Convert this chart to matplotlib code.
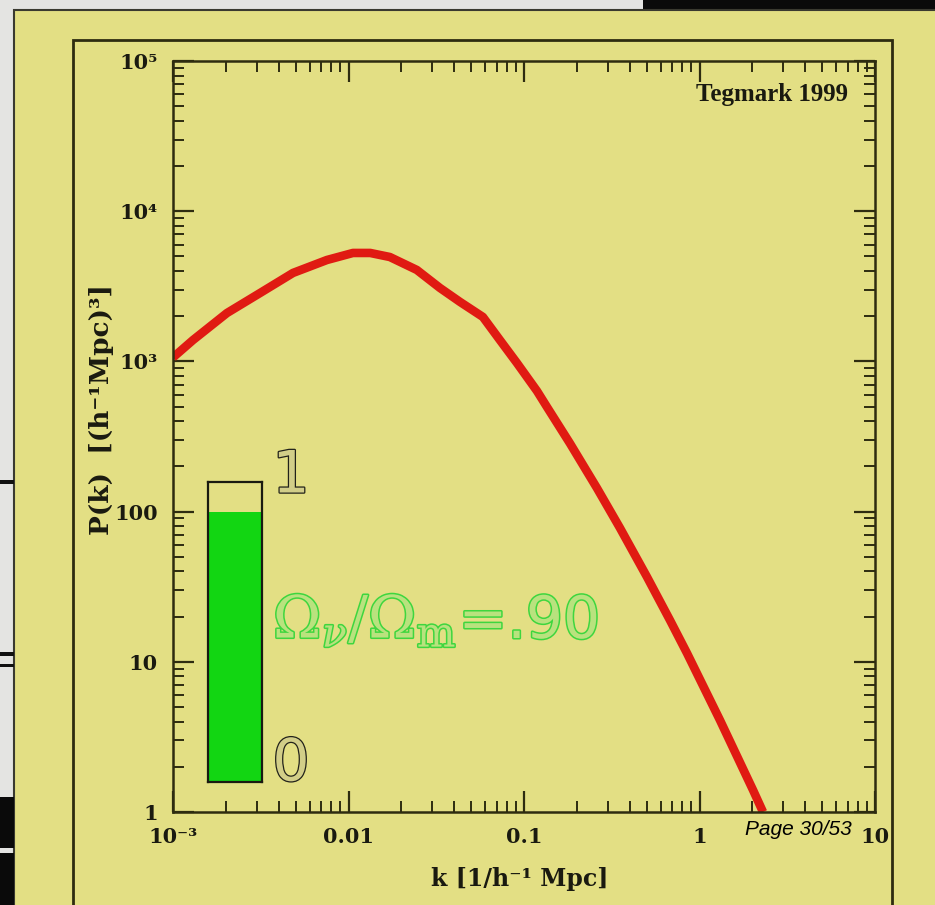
import matplotlib
matplotlib.use("Agg")
import matplotlib.pyplot as plt
import matplotlib.patheffects as pe
from matplotlib.patches import Rectangle

plt.rcParams["mathtext.fontset"] = "dejavuserif"

# Power spectrum curve (k in h/Mpc, P in (Mpc/h)^3)
k_vals = [0.00100, 0.00130, 0.00203, 0.00313, 0.00483, 0.00753, 0.0106, 0.0133,
          0.0172, 0.0245, 0.0332, 0.0432, 0.0583, 0.0729, 0.0912, 0.1186, 0.1352,
          0.1828, 0.2606, 0.3524, 0.5023, 0.6792, 0.8492, 1.309, 2.018, 2.301]
p_vals = [1062, 1387, 2099, 2851, 3882, 4732, 5272, 5272,
          4955, 4064, 3083, 2489, 1977, 1387, 975, 635, 497,
          284.5, 143.2, 77.7, 36.7, 18.9, 11.4, 4.08, 1.40, 1.0]

x_ticks = [1e-3, 1e-2, 0.1, 1, 10]
x_tick_labels = ["10⁻³", "0.01", "0.1", "1", "10"]
y_ticks = [1, 10, 100, 1e3, 1e4, 1e5]
y_tick_labels = ["1", "10", "100", "10³", "10⁴", "10⁵"]

# Neutrino fraction shown by the bar gauge
omega_ratio = 0.90

YELLOW = "#e3df84"
DARK = "#2e2c10"
INK = "#1a1a10"
W, H = 935, 905

fig = plt.figure(figsize=(W / 100, H / 100), dpi=100, facecolor="#e4e4e2")


def fx(px):
    return px / W


def fy(py):
    return 1 - py / H


def frect(x0, y0, x1, y1, **kw):
    fig.patches.append(Rectangle((fx(x0), fy(y1)), fx(x1) - fx(x0), fy(y0) - fy(y1),
                                 transform=fig.transFigure, figure=fig, zorder=-10, **kw))


# slide background pieces
frect(643, 0, 935, 10, facecolor="#0a0a0a", edgecolor="none")
frect(14, 10, 940, 910, facecolor=YELLOW, edgecolor="#3a3a30", linewidth=1.5)
frect(73, 40, 892, 915, facecolor="none", edgecolor=DARK, linewidth=2)
frect(0, 480, 14, 484, facecolor="#111111", edgecolor="none")
frect(0, 652, 14, 656, facecolor="#111111", edgecolor="none")
frect(0, 664, 14, 667, facecolor="#111111", edgecolor="none")
frect(0, 797, 14, 848, facecolor="#0a0a0a", edgecolor="none")
frect(0, 853, 14, 905, facecolor="#0a0a0a", edgecolor="none")

ax = fig.add_axes([fx(173), fy(812), fx(875) - fx(173), fy(61) - fy(812)])
ax.set_zorder(2)
ax.set_facecolor("none")
ax.set_xscale("log")
ax.set_yscale("log")
ax.set_xlim(1e-3, 10)
ax.set_ylim(1, 1e5)

ax.plot(k_vals, p_vals, color="#e01a12", linewidth=6.2, solid_capstyle="butt",
        solid_joinstyle="round")

for s in ax.spines.values():
    s.set_color(DARK)
    s.set_linewidth(1.8)

tick_font = dict(family="DejaVu Serif", weight="bold", size=15)
ax.set_xticks(x_ticks)
ax.set_xticklabels(x_tick_labels, **tick_font)
ax.set_yticks(y_ticks)
ax.set_yticklabels(y_tick_labels, **tick_font)
ax.tick_params(which="both", direction="in", top=True, right=True, colors=DARK,
               labelcolor=INK)
ax.tick_params(which="major", length=15, width=1.6)
ax.tick_params(which="minor", length=8, width=1.4)
ax.tick_params(axis="x", which="major", pad=11)
ax.tick_params(axis="y", which="major", pad=11)

ax.text(0.962, 0.955, "Tegmark 1999", transform=ax.transAxes, ha="right", va="center",
        family="Liberation Serif", weight="bold", size=18, color=INK)

fig.text(fx(520), fy(879), "k [1/h⁻¹ Mpc]", ha="center", va="center",
         family="DejaVu Serif", weight="bold", size=17, color=INK, zorder=3)
fig.text(fx(101), fy(410), "P(k)  [(h⁻¹Mpc)³]", ha="center", va="center", rotation=90,
         family="DejaVu Serif", weight="bold", size=19, color=INK, zorder=3)

fig.text(fx(798), fy(829), "Page 30/53", ha="center", va="center", style="italic",
         family=["Liberation Sans Narrow", "Liberation Sans"], size=15, color="black",
         zorder=5)

# bar gauge for the neutrino fraction
gax = fig.add_axes([fx(208), fy(782), fx(262) - fx(208), fy(482) - fy(782)])
gax.set_zorder(3)
gax.set_facecolor("none")
gax.set_xlim(0, 1)
gax.set_ylim(0, 1)
gax.bar([0.5], [omega_ratio], width=1.0, color="#12d612", edgecolor="none")
gax.set_xticks([])
gax.set_yticks([])
for s in gax.spines.values():
    s.set_color(INK)
    s.set_linewidth(1.6)

hollow = dict(family=["DejaVu Sans"], weight="normal", color="#d2ce88", zorder=4)
for txt, ypx in (("1", 476), ("0", 764)):
    t = fig.text(fx(291), fy(ypx), txt, ha="center", va="center", size=42, **hollow)
    t.set_path_effects([pe.withStroke(linewidth=1.8, foreground="#22221a")])

# ratio label: symbol part in math, value part in plain sans text
green_fill, green_edge = "#b9e27e", "#3ed63e"
base_y = fy(638)
sym = fig.text(fx(273), base_y, r"$\Omega_\nu/\Omega_\mathrm{m}$", ha="left",
               va="baseline", size=42, color=green_fill, zorder=4)
sym.set_path_effects([pe.withStroke(linewidth=2.2, foreground=green_edge)])
renderer = fig.canvas.get_renderer()
x_end = sym.get_window_extent(renderer).x1 / W
val = fig.text(x_end + fx(2), base_y, f"={omega_ratio:.2f}".replace("0.", "."),
               ha="left", va="baseline", size=42, color=green_fill,
               family="DejaVu Sans", zorder=4)
val.set_path_effects([pe.withStroke(linewidth=2.2, foreground=green_edge)])

fig.savefig("out.png", dpi=100, facecolor=fig.get_facecolor())
